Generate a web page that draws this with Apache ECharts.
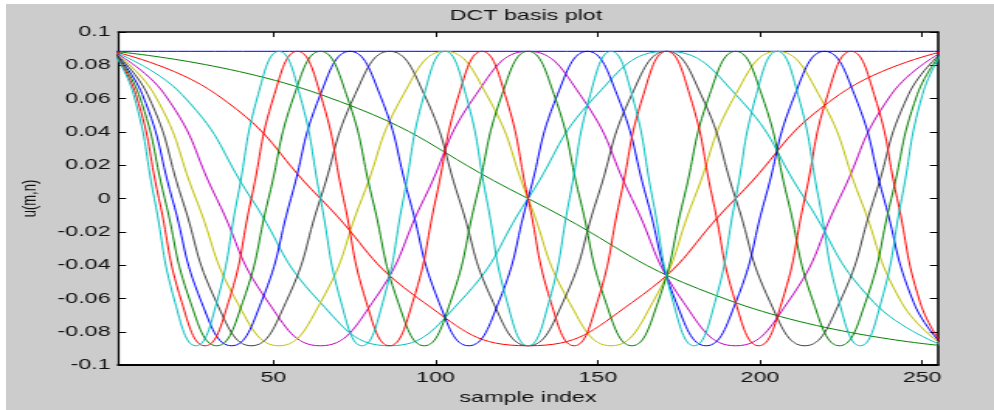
<!DOCTYPE html>
<html>
  <head>
    <meta charset="utf-8" />
    <title>DCT basis plot</title>
    <script src="https://cdn.jsdelivr.net/npm/echarts@6/dist/echarts.min.js"></script>
  </head>

  <body style="margin: 0; background: #fff">
    <div style="position: absolute; left: 6px; top: 4px; width: 988px; height: 406px; background: #cccccc"></div>
    <!-- the reference is stretched sideways, so the chart is drawn narrow and scaled in x -->
    <div id="main" style="position: absolute; left: 0; top: 0; width: 641px; height: 410px; transform: scaleX(1.5507); transform-origin: 0 0"></div>
    <script type="text/javascript">
      // key points of each basis vector (peaks, 45deg points, zero crossings)
      const x0 = [0.5, 256.5];
      const y0 = [0.0884, 0.0884];
      const x1 = [0.5, 64.5, 128.5, 192.5, 256.5];
      const y1 = [0.0884, 0.0625, 0, -0.0625, -0.0884];
      const x2 = [0.5, 32.5, 64.5, 96.5, 128.5, 160.5, 192.5, 224.5, 256.5];
      const y2 = [0.0884, 0.0625, 0, -0.0625, -0.0884, -0.0625, 0, 0.0625, 0.0884];
      const x3 = [0.5, 21.8, 43.2, 64.5, 85.8, 107.2, 128.5, 149.8, 171.2, 192.5, 213.8, 235.2, 256.5];
      const y3 = [0.0884, 0.0625, 0, -0.0625, -0.0884, -0.0625, 0, 0.0625,
                  0.0884, 0.0625, 0, -0.0625, -0.0884];
      const x4 = [0.5, 16.5, 32.5, 48.5, 64.5, 80.5, 96.5, 112.5, 128.5, 144.5, 160.5, 176.5, 192.5,
                  208.5, 224.5, 240.5, 256.5];
      const y4 = [0.0884, 0.0625, 0, -0.0625, -0.0884, -0.0625, 0, 0.0625,
                  0.0884, 0.0625, 0, -0.0625, -0.0884, -0.0625, 0, 0.0625,
                  0.0884];
      const x5 = [0.5, 13.3, 26.1, 38.9, 51.7, 64.5, 77.3, 90.1, 102.9, 115.7, 128.5, 141.3, 154.1,
                  166.9, 179.7, 192.5, 205.3, 218.1, 230.9, 243.7, 256.5];
      const y5 = [0.0884, 0.0625, 0, -0.0625, -0.0884, -0.0625, 0, 0.0625,
                  0.0884, 0.0625, 0, -0.0625, -0.0884, -0.0625, 0, 0.0625,
                  0.0884, 0.0625, 0, -0.0625, -0.0884];
      const x6 = [0.5, 11.2, 21.8, 32.5, 43.2, 53.8, 64.5, 75.2, 85.8, 96.5, 107.2, 117.8, 128.5,
                  139.2, 149.8, 160.5, 171.2, 181.8, 192.5, 203.2, 213.8, 224.5, 235.2, 245.8, 256.5];
      const y6 = [0.0884, 0.0625, 0, -0.0625, -0.0884, -0.0625, 0, 0.0625,
                  0.0884, 0.0625, 0, -0.0625, -0.0884, -0.0625, 0, 0.0625,
                  0.0884, 0.0625, 0, -0.0625, -0.0884, -0.0625, 0, 0.0625,
                  0.0884];
      const x7 = [0.5, 9.6, 18.8, 27.9, 37.1, 46.2, 55.4, 64.5, 73.6, 82.8, 91.9, 101.1, 110.2, 119.4,
                  128.5, 137.6, 146.8, 155.9, 165.1, 174.2, 183.4, 192.5, 201.6, 210.8, 219.9, 229.1,
                  238.2, 247.4, 256.5];
      const y7 = [0.0884, 0.0625, 0, -0.0625, -0.0884, -0.0625, 0, 0.0625,
                  0.0884, 0.0625, 0, -0.0625, -0.0884, -0.0625, 0, 0.0625,
                  0.0884, 0.0625, 0, -0.0625, -0.0884, -0.0625, 0, 0.0625,
                  0.0884, 0.0625, 0, -0.0625, -0.0884];
      const x8 = [0.5, 8.5, 16.5, 24.5, 32.5, 40.5, 48.5, 56.5, 64.5, 72.5, 80.5, 88.5, 96.5, 104.5,
                  112.5, 120.5, 128.5, 136.5, 144.5, 152.5, 160.5, 168.5, 176.5, 184.5, 192.5, 200.5,
                  208.5, 216.5, 224.5, 232.5, 240.5, 248.5, 256.5];
      const y8 = [0.0884, 0.0625, 0, -0.0625, -0.0884, -0.0625, 0, 0.0625,
                  0.0884, 0.0625, 0, -0.0625, -0.0884, -0.0625, 0, 0.0625,
                  0.0884, 0.0625, 0, -0.0625, -0.0884, -0.0625, 0, 0.0625,
                  0.0884, 0.0625, 0, -0.0625, -0.0884, -0.0625, 0, 0.0625,
                  0.0884];
      const x9 = [0.5, 7.6, 14.7, 21.8, 28.9, 36.1, 43.2, 50.3, 57.4, 64.5, 71.6, 78.7, 85.8, 92.9,
                  100.1, 107.2, 114.3, 121.4, 128.5, 135.6, 142.7, 149.8, 156.9, 164.1, 171.2, 178.3,
                  185.4, 192.5, 199.6, 206.7, 213.8, 220.9, 228.1, 235.2, 242.3, 249.4, 256.5];
      const y9 = [0.0884, 0.0625, 0, -0.0625, -0.0884, -0.0625, 0, 0.0625,
                  0.0884, 0.0625, 0, -0.0625, -0.0884, -0.0625, 0, 0.0625,
                  0.0884, 0.0625, 0, -0.0625, -0.0884, -0.0625, 0, 0.0625,
                  0.0884, 0.0625, 0, -0.0625, -0.0884, -0.0625, 0, 0.0625,
                  0.0884, 0.0625, 0, -0.0625, -0.0884];
      const x10 = [0.5, 6.9, 13.3, 19.7, 26.1, 32.5, 38.9, 45.3, 51.7, 58.1, 64.5, 70.9, 77.3, 83.7,
                   90.1, 96.5, 102.9, 109.3, 115.7, 122.1, 128.5, 134.9, 141.3, 147.7, 154.1, 160.5,
                   166.9, 173.3, 179.7, 186.1, 192.5, 198.9, 205.3, 211.7, 218.1, 224.5, 230.9, 237.3,
                   243.7, 250.1, 256.5];
      const y10 = [0.0884, 0.0625, 0, -0.0625, -0.0884, -0.0625, 0, 0.0625,
                   0.0884, 0.0625, 0, -0.0625, -0.0884, -0.0625, 0, 0.0625,
                   0.0884, 0.0625, 0, -0.0625, -0.0884, -0.0625, 0, 0.0625,
                   0.0884, 0.0625, 0, -0.0625, -0.0884, -0.0625, 0, 0.0625,
                   0.0884, 0.0625, 0, -0.0625, -0.0884, -0.0625, 0, 0.0625,
                   0.0884];

      const xTicks = [50, 100, 150, 200, 250];
      const curveX = [x0, x1, x2, x3, x4, x5, x6, x7, x8, x9, x10];
      const curveY = [y0, y1, y2, y3, y4, y5, y6, y7, y8, y9, y10];
      // matlab default colour order
      const colors = ["#0000ff", "#008000", "#ff0000", "#00bfbf", "#bf00bf", "#bfbf00", "#404040",
                      "#0000ff", "#008000", "#ff0000", "#00bfbf"];

      var myChart = echarts.init(document.getElementById("main"));

      const font = "Liberation Sans";
      const tickLine = { color: "#000", width: 1 };

      option = {
        animation: false,
        title: {
          text: "DCT basis plot",
          left: 290,
          top: 8,
          padding: 0,
          textStyle: { fontFamily: font, fontSize: 15, fontWeight: "normal", color: "#111" },
        },
        grid: {
          left: 76.3,
          right: 36.3,
          top: 32,
          bottom: 38,
          show: true,
          backgroundColor: "#fff",
          borderWidth: 0,
        },
        xAxis: [
          {
            type: "value",
            min: 2.2,
            max: 254.8,
            position: "bottom",
            name: "sample index",
            nameLocation: "middle",
            nameGap: 19,
            nameTextStyle: { fontFamily: font, fontSize: 15, color: "#111" },
            axisLine: { onZero: false, lineStyle: { color: "#000", width: 2 } },
            axisTick: { inside: true, length: 5, customValues: xTicks, lineStyle: tickLine },
            axisLabel: { customValues: xTicks, margin: 5, fontFamily: font, fontSize: 15, color: "#111" },
            splitLine: { show: false },
          },
          {
            type: "value",
            min: 2.2,
            max: 254.8,
            position: "top",
            axisLine: { onZero: false, lineStyle: { color: "#000", width: 1.5 } },
            axisTick: { inside: true, length: 5, customValues: xTicks, lineStyle: tickLine },
            axisLabel: { show: false },
            splitLine: { show: false },
          },
        ],
        yAxis: [
          {
            type: "value",
            min: -0.1,
            max: 0.1,
            interval: 0.02,
            position: "left",
            name: "u(m,n)",
            nameLocation: "middle",
            nameRotate: 90,
            nameGap: 49,
            nameTextStyle: { fontFamily: font, fontSize: 13, color: "#111" },
            axisLine: { show: true, onZero: false, lineStyle: { color: "#000", width: 1.2 } },
            axisTick: { show: true, inside: true, length: 5, lineStyle: tickLine },
            axisLabel: {
              margin: 5,
              fontFamily: font,
              fontSize: 15,
              color: "#111",
              formatter: (v) => String(+v.toFixed(2)),
            },
            splitLine: { show: false },
          },
          {
            type: "value",
            min: -0.1,
            max: 0.1,
            interval: 0.02,
            position: "right",
            axisLine: { show: true, onZero: false, lineStyle: { color: "#000", width: 1.5 } },
            axisTick: { show: true, inside: true, length: 5, lineStyle: tickLine },
            axisLabel: { show: false },
            splitLine: { show: false },
          },
        ],
        series: curveX.map((xs, k) => ({
          type: "line",
          name: "k=" + k,
          xAxisIndex: 0,
          yAxisIndex: 0,
          data: xs.map((x, i) => [x, curveY[k][i]]),
          smooth: true,
          showSymbol: false,
          clip: true,
          lineStyle: { color: colors[k], width: 1 },
        })),
      };

      myChart.setOption(option);
    </script>
  </body>
</html>
